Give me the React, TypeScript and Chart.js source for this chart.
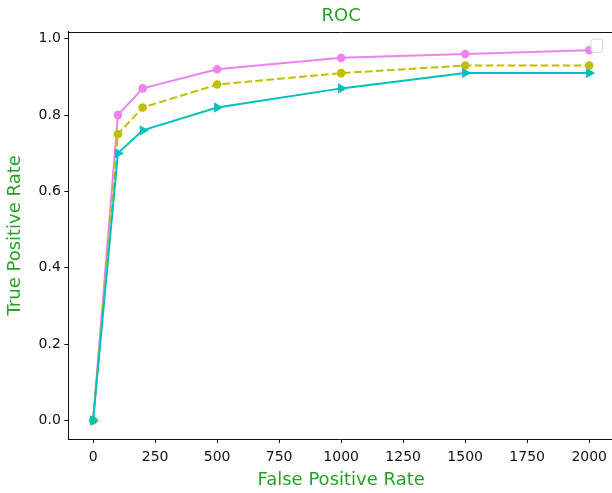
import React, { useEffect, useRef } from "react";
import { Chart, registerables } from "chart.js";

Chart.register(...registerables);

const fpr = [0, 100, 200, 500, 1000, 1500, 2000];
const tprViolet = [0, 0.8, 0.87, 0.92, 0.95, 0.96, 0.97];
const tprOlive = [0, 0.75, 0.82, 0.88, 0.91, 0.93, 0.93];
const tprCyan = [0, 0.7, 0.76, 0.82, 0.87, 0.91, 0.91];
const xTicks = [0, 250, 500, 750, 1000, 1250, 1500, 1750, 2000];
const yTicks = [0, 0.2, 0.4, 0.6, 0.8, 1.0];

const GREEN = "#27a027";
const FONT = "'DejaVu Sans', sans-serif";
const INK = "#111";

const frameAndLegend = {
  id: "frameAndLegend",
  afterDraw(chart: any) {
    const { ctx, chartArea } = chart;
    ctx.save();
    ctx.strokeStyle = INK;
    ctx.lineWidth = 1;
    ctx.beginPath();
    ctx.moveTo(chartArea.left - 0.5, Math.round(chartArea.top) + 0.5);
    ctx.lineTo(chartArea.right + 1, Math.round(chartArea.top) + 0.5);
    ctx.stroke();
    // empty legend box
    const bx = chartArea.right - 23;
    const by = chartArea.top + 7.5;
    const w = 11.5, h = 13, r = 2;
    ctx.beginPath();
    ctx.moveTo(bx + r, by);
    ctx.lineTo(bx + w - r, by);
    ctx.arcTo(bx + w, by, bx + w, by + r, r);
    ctx.lineTo(bx + w, by + h - r);
    ctx.arcTo(bx + w, by + h, bx + w - r, by + h, r);
    ctx.lineTo(bx + r, by + h);
    ctx.arcTo(bx, by + h, bx, by + h - r, r);
    ctx.lineTo(bx, by + r);
    ctx.arcTo(bx, by, bx + r, by, r);
    ctx.closePath();
    ctx.fillStyle = "rgba(255,255,255,0.8)";
    ctx.fill();
    ctx.strokeStyle = "#d6d6d6";
    ctx.stroke();
    ctx.restore();
  },
};

export default function App() {
  const ref = useRef<HTMLCanvasElement>(null);

  useEffect(() => {
    document.body.style.margin = "0";
    const pts = (ys: number[]) => fpr.map((x, i) => ({ x, y: ys[i] }));
    const chart = new Chart(ref.current!, {
      type: "line",
      data: {
        datasets: [
          {
            label: "violet",
            data: pts(tprViolet),
            borderColor: "#EE82EE",
            backgroundColor: "#EE82EE",
            borderWidth: 2,
            pointRadius: 4.3,
            pointHoverRadius: 4.3,
            pointBorderWidth: 0,
            pointStyle: "circle",
            order: 2,
          },
          {
            label: "olive",
            data: pts(tprOlive),
            borderColor: "#BFBF00",
            backgroundColor: "#BFBF00",
            borderWidth: 2,
            borderDash: [7.7, 3.3],
            pointRadius: 4.3,
            pointHoverRadius: 4.3,
            pointBorderWidth: 0,
            pointStyle: "circle",
            order: 1,
          },
          {
            label: "cyan",
            data: pts(tprCyan),
            borderColor: "#00BFBF",
            backgroundColor: "#00BFBF",
            borderWidth: 2,
            pointRadius: 6,
            pointHoverRadius: 6,
            pointBorderWidth: 0,
            pointStyle: "triangle",
            pointRotation: 90,
            order: 0,
          },
        ],
      },
      options: {
        responsive: false,
        animation: false,
        events: [],
        layout: { padding: { left: 0, right: 1.7, top: 0, bottom: 0 } },
        plugins: {
          legend: { display: false },
          tooltip: { enabled: false },
          title: {
            display: true,
            text: "ROC",
            color: GREEN,
            fullSize: false,
            font: { family: FONT, size: 18, weight: "normal", lineHeight: 1.2 },
            padding: { top: 6, bottom: 4.1 },
          },
        },
        scales: {
          x: {
            type: "linear",
            min: -100,
            max: 2100,
            afterBuildTicks: (s: any) => {
              s.ticks = xTicks.map((v) => ({ value: v }));
            },
            afterFit: (s: any) => {
              s.height = 54;
            },
            ticks: {
              color: INK,
              font: { family: FONT, size: 14 },
              padding: 6,
              maxRotation: 0,
              autoSkip: false,
              callback: (v: any) => String(v),
            },
            grid: {
              drawOnChartArea: false,
              drawTicks: true,
              tickLength: 4,
              color: INK,
            },
            border: { display: true, color: INK, width: 1 },
            title: {
              display: true,
              text: "False Positive Rate",
              color: GREEN,
              font: { family: FONT, size: 18, lineHeight: 1.2 },
              padding: { top: 0, bottom: 2 },
            },
          },
          y: {
            type: "linear",
            min: -0.0485,
            max: 1.0185,
            afterBuildTicks: (s: any) => {
              s.ticks = yTicks.map((v) => ({ value: v }));
            },
            afterFit: (s: any) => {
              s.width = 68.3;
            },
            ticks: {
              color: INK,
              font: { family: FONT, size: 14 },
              padding: 3.5,
              autoSkip: false,
              callback: (v: any) => Number(v).toFixed(1),
            },
            grid: {
              drawOnChartArea: false,
              drawTicks: true,
              tickLength: 4,
              color: INK,
            },
            border: { display: true, color: INK, width: 1 },
            title: {
              display: true,
              text: "True Positive Rate",
              color: GREEN,
              font: { family: FONT, size: 18, lineHeight: 1.2 },
              padding: { top: 5, bottom: 0 },
            },
          },
        },
      },
      plugins: [frameAndLegend],
    });
    return () => chart.destroy();
  }, []);

  return (
    <div
      style={{
        position: "absolute",
        left: 0,
        top: 0,
        width: 612,
        height: 493,
        overflow: "hidden",
        background: "#fff",
      }}
    >
      <canvas ref={ref} width={620} height={493} style={{ display: "block" }} />
    </div>
  );
}
